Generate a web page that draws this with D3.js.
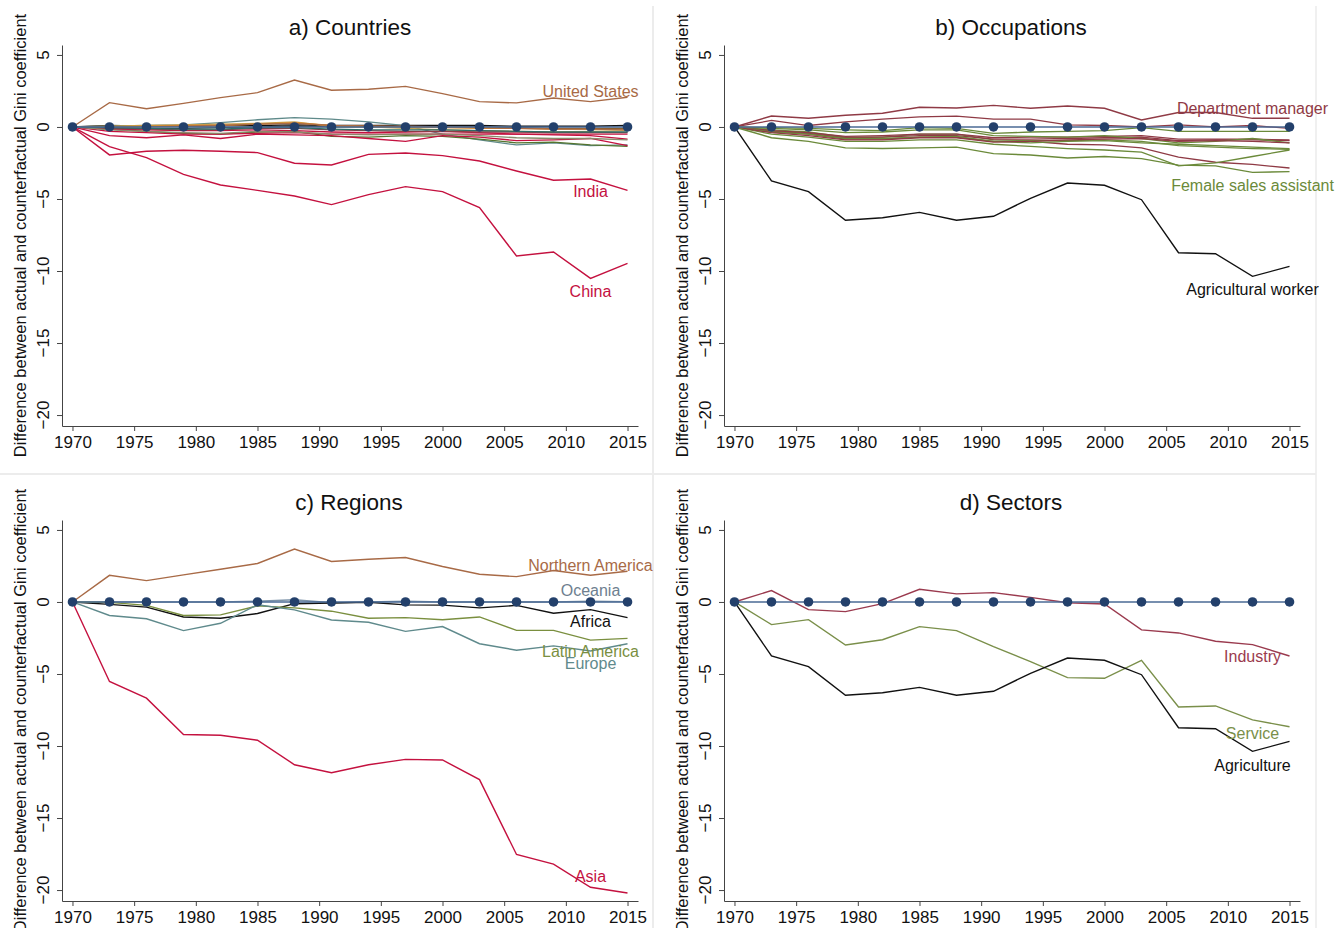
<!DOCTYPE html>
<html>
<head>
<meta charset="utf-8">
<script src="https://cdn.jsdelivr.net/npm/d3@7"></script>
<style>
  body { margin: 0; background: #fff; }
  svg { font-family: "Liberation Sans", Arial, Helvetica, sans-serif; }
</style>
</head>
<body>
<svg id="chart" width="1338" height="928"></svg>
<script>
// data
const years = [1970, 1973, 1976, 1979, 1982, 1985, 1988, 1991, 1994, 1997, 2000, 2003, 2006, 2009, 2012, 2015];
const xTicks = [1970, 1975, 1980, 1985, 1990, 1995, 2000, 2005, 2010, 2015];
const yTicks = [5, 0, -5, -10, -15, -20];
const zeroLine = years.map(() => 0);

// a) Countries
const unitedStates = [0, 1.69, 1.27, 1.64, 2.04, 2.38, 3.26, 2.55, 2.62, 2.82, 2.31, 1.76, 1.67, 2.01, 1.76, 2.06];
const india = [0, -1.94, -1.69, -1.62, -1.69, -1.78, -2.52, -2.64, -1.9, -1.81, -1.99, -2.36, -3.06, -3.7, -3.61, -4.4];
const china = [0, -1.37, -2.13, -3.29, -4.03, -4.4, -4.79, -5.39, -4.7, -4.14, -4.49, -5.6, -8.96, -8.68, -10.51, -9.47];
const countryOthers = [
  [0, 0.1, 0.05, 0.05, 0.1, 0.1, 0.15, 0.1, 0.1, 0.1, 0.1, 0.1, 0.05, 0.05, 0.05, 0.1],
  [0, -0.05, -0.1, -0.1, -0.05, 0, 0.05, 0, 0, 0.05, 0, 0, -0.05, -0.1, -0.1, -0.1],
  [0, 0.05, 0.1, 0.15, 0.3, 0.5, 0.65, 0.55, 0.35, 0.1, -0.5, -0.9, -1.25, -1.1, -1.3, -1.25],
  [0, -0.15, -0.3, -0.45, -0.5, -0.35, -0.3, -0.65, -0.7, -0.6, -0.65, -0.85, -1.1, -1.05, -1.25, -1.35],
  [0, 0.05, 0.1, 0.15, 0.2, 0.25, 0.35, 0.05, 0, -0.1, -0.2, -0.25, -0.3, -0.35, -0.3, -0.25],
  [0, -0.6, -0.75, -0.55, -0.8, -0.5, -0.55, -0.6, -0.8, -1.0, -0.6, -0.7, -0.95, -0.9, -0.8, -1.3],
  [0, -0.3, -0.4, -0.5, -0.5, -0.45, -0.4, -0.5, -0.5, -0.5, -0.5, -0.5, -0.5, -0.5, -0.5, -0.5],
  [0, -0.15, -0.2, -0.25, -0.25, -0.2, -0.25, -0.35, -0.4, -0.35, -0.3, -0.4, -0.5, -0.55, -0.6, -0.85],
  [0, -0.1, -0.15, -0.2, -0.2, -0.1, -0.1, -0.2, -0.25, -0.3, -0.3, -0.35, -0.35, -0.4, -0.4, -0.4],
  [0, 0, 0.05, 0.1, 0.1, 0.2, 0.3, 0.1, 0.05, 0, -0.05, -0.1, -0.1, -0.15, -0.15, -0.15],
  [0, -0.2, -0.3, -0.4, -0.45, -0.3, -0.35, -0.5, -0.55, -0.5, -0.5, -0.6, -0.75, -0.8, -0.8, -0.9],
  [0, 0, 0, 0.05, 0.1, 0.2, 0.25, 0.1, 0.05, 0.05, 0, -0.05, -0.1, -0.15, -0.15, -0.2],
  [0, -0.05, -0.1, -0.15, -0.15, -0.05, -0.05, -0.15, -0.2, -0.2, -0.2, -0.25, -0.3, -0.35, -0.35, -0.35]
];
const countryOtherColors = ['#111111', '#333333', '#5f8a8a', '#55752f', '#c8a04c', '#c4113f', '#c4113f', '#c4113f',
  '#8f3a45', '#d98a2b', '#8a8a6a', '#a86a46', '#2d6d66'];

// b) Occupations
const departmentManager = [0, 0.76, 0.6, 0.81, 0.95, 1.37, 1.32, 1.5, 1.3, 1.46, 1.3, 0.49, 1.0, 1.0, 0.6, 0.6];
const femaleSalesAssistant = [0, -0.75, -1.0, -1.45, -1.5, -1.45, -1.4, -1.85, -1.95, -2.15, -2.05, -2.2, -2.65, -2.7, -3.15, -3.1];
const agriculturalWorker = [0, -3.75, -4.49, -6.48, -6.3, -5.93, -6.48, -6.2, -4.95, -3.89, -4.05, -5.05, -8.73, -8.8, -10.37, -9.68];
const occupationOthers = [
  [0, 0.45, 0.1, 0.35, 0.55, 0.7, 0.75, 0.55, 0.55, 0.15, 0.1, 0, 0.15, 0, 0.1, -0.1],
  [0, -0.3, -0.5, -0.85, -0.85, -0.7, -0.7, -1.0, -1.0, -1.2, -1.25, -1.45, -2.1, -2.45, -2.6, -2.85],
  [0, -0.5, -0.7, -1.0, -1.0, -0.9, -0.9, -1.2, -1.35, -1.5, -1.6, -1.75, -2.7, -2.5, -2.05, -1.6],
  [0, -0.05, -0.1, -0.2, -0.25, -0.05, -0.1, -0.45, -0.35, -0.3, -0.25, -0.05, -0.3, -0.3, -0.3, -0.3],
  [0, -0.2, -0.35, -0.7, -0.7, -0.5, -0.5, -0.9, -0.95, -0.95, -0.9, -1.0, -1.3, -1.4, -1.5, -1.55],
  [0, -0.3, -0.45, -0.75, -0.7, -0.6, -0.6, -0.85, -0.85, -0.8, -0.75, -0.7, -0.95, -0.9, -0.9, -0.95],
  [0, -0.25, -0.4, -0.65, -0.6, -0.5, -0.5, -0.75, -0.7, -0.7, -0.65, -0.6, -0.85, -0.85, -0.85, -0.9],
  [0, -0.35, -0.5, -0.8, -0.8, -0.7, -0.65, -1.0, -1.1, -1.0, -0.95, -1.1, -1.2, -1.3, -1.4, -1.5],
  [0, -0.1, -0.2, -0.4, -0.35, -0.2, -0.2, -0.6, -0.65, -0.7, -0.6, -0.8, -1.1, -1.0, -0.8, -1.1],
  [0, -0.4, -0.6, -0.9, -0.9, -0.75, -0.75, -1.05, -1.0, -0.9, -0.85, -0.8, -1.0, -0.95, -1.0, -1.1]
];
const occupationOtherColors = ['#8f3a45', '#8f3a45', '#6b8a3a', '#6b8a3a', '#6b8a3a', '#8f3a45', '#8f3a45',
  '#6b8a3a', '#6b8a3a', '#8f3a45'];

// c) Regions
const northernAmerica = [0, 1.85, 1.48, 1.88, 2.27, 2.67, 3.67, 2.81, 2.97, 3.09, 2.46, 1.92, 1.76, 2.18, 1.85, 2.13];
const oceania = [0, 0, 0, 0, 0, 0.05, 0.15, -0.05, 0, 0.05, 0, 0, 0, 0, 0.05, 0.02];
const africa = [0, -0.17, -0.36, -1.04, -1.13, -0.8, -0.12, -0.07, -0.02, -0.2, -0.22, -0.41, -0.24, -0.78, -0.53, -1.09];
const latinAmerica = [0, -0.03, -0.24, -0.94, -0.9, -0.27, -0.41, -0.64, -1.13, -1.09, -1.23, -1.04, -1.97, -1.97, -2.65, -2.53];
const europe = [0, -0.94, -1.17, -1.99, -1.48, -0.2, -0.55, -1.25, -1.41, -2.04, -1.71, -2.9, -3.35, -3.05, -3.4, -2.9];
const asia = [0, -5.52, -6.68, -9.2, -9.25, -9.6, -11.3, -11.86, -11.3, -10.93, -10.97, -12.33, -17.53, -18.2, -19.81, -20.2];

// d) Sectors
const industry = [0, 0.79, -0.53, -0.67, -0.12, 0.88, 0.56, 0.65, 0.32, -0.05, -0.14, -1.94, -2.15, -2.73, -2.96, -3.75];
const service = [0, -1.57, -1.23, -2.99, -2.62, -1.71, -1.99, -3.1, -4.14, -5.25, -5.3, -4.05, -7.29, -7.22, -8.19, -8.66];
const agriculture = [0, -3.75, -4.49, -6.48, -6.3, -5.93, -6.48, -6.2, -4.95, -3.89, -4.05, -5.05, -8.73, -8.8, -10.37, -9.68];

// panels
const panels = [
  {
    title: 'a) Countries', left: 62, top: 45, titleX: 350,
    others: countryOthers.map((v, i) => ({ values: v, color: countryOtherColors[i] })),
    series: [
      { values: unitedStates, color: '#a86a46', label: 'United States', labelY: 2.5 },
      { values: india, color: '#c4113f', label: 'India', labelY: -4.45 },
      { values: china, color: '#c4113f', label: 'China', labelY: -11.4 }
    ]
  },
  {
    title: 'b) Occupations', left: 724, top: 45, titleX: 1011,
    others: occupationOthers.map((v, i) => ({ values: v, color: occupationOtherColors[i] })),
    series: [
      { values: departmentManager, color: '#8f3a45', label: 'Department manager', labelY: 1.32 },
      { values: femaleSalesAssistant, color: '#6b8a3a', label: 'Female sales assistant', labelY: -4.03 },
      { values: agriculturalWorker, color: '#111111', label: 'Agricultural worker', labelY: -11.25, labelColor: '#111' }
    ]
  },
  {
    title: 'c) Regions', left: 62, top: 520, titleX: 349,
    others: [],
    series: [
      { values: northernAmerica, color: '#a86a46', label: 'Northern America', labelY: 2.57 },
      { values: oceania, color: '#7b92a8', label: 'Oceania', labelY: 0.82, labelColor: '#6e7f90' },
      { values: africa, color: '#111111', label: 'Africa', labelY: -1.35 },
      { values: latinAmerica, color: '#7a8f3f', label: 'Latin America', labelY: -3.45 },
      { values: europe, color: '#5f8a8c', label: 'Europe', labelY: -4.29 },
      { values: asia, color: '#c4113f', label: 'Asia', labelY: -19.05 }
    ]
  },
  {
    title: 'd) Sectors', left: 724, top: 520, titleX: 1011,
    others: [],
    series: [
      { values: industry, color: '#9a3a4e', label: 'Industry', labelY: -3.8 },
      { values: service, color: '#7a8f4a', label: 'Service', labelY: -9.1 },
      { values: agriculture, color: '#111111', label: 'Agriculture', labelY: -11.35 }
    ]
  }
];

const svg = d3.select('#chart');

// faint panel borders
svg.append('line').attr('x1', 653).attr('x2', 653).attr('y1', 6).attr('y2', 928)
  .attr('stroke', '#ececec').attr('stroke-width', 2);
svg.append('line').attr('x1', 1316).attr('x2', 1316).attr('y1', 6).attr('y2', 928)
  .attr('stroke', '#f0f0f0').attr('stroke-width', 2);
svg.append('line').attr('x1', 0).attr('x2', 1316).attr('y1', 474).attr('y2', 474)
  .attr('stroke', '#ececec').attr('stroke-width', 2);

function drawPanel(p) {
  const g = svg.append('g');
  const plotH = 381;
  const x = d3.scaleLinear().domain([1969.15, 2015.85]).range([p.left, p.left + 576]);
  const y = d3.scaleLinear().domain([5.69, -20.76]).range([p.top, p.top + plotH]);

  // title
  g.append('text')
    .attr('x', p.titleX).attr('y', p.top - 10)
    .attr('text-anchor', 'middle')
    .attr('font-size', 22.5).attr('fill', '#111')
    .text(p.title);

  // y axis title
  g.append('text')
    .attr('transform', `translate(${p.left - 42},${p.top + plotH / 2}) rotate(-90)`)
    .attr('text-anchor', 'middle').attr('dy', '0.35em')
    .attr('font-size', 16.5).attr('fill', '#111')
    .text('Difference between actual and counterfactual Gini coefficient');

  // x axis
  const xAxis = g.append('g')
    .attr('transform', `translate(0,${p.top + plotH})`)
    .call(d3.axisBottom(x).tickValues(xTicks).tickFormat(d3.format('d'))
      .tickSize(5).tickSizeOuter(0).tickPadding(5));
  xAxis.selectAll('text').attr('font-size', 17).attr('fill', '#111')
    .attr('font-family', '"Liberation Sans", Arial, sans-serif');

  // y axis
  const yAxis = g.append('g')
    .attr('transform', `translate(${p.left},0)`)
    .call(d3.axisLeft(y).tickValues(yTicks).tickFormat('').tickSize(5).tickSizeOuter(0));
  g.selectAll('.ylab')
    .data(yTicks)
    .enter()
    .append('text')
    .attr('class', 'ylab')
    .attr('transform', (d) => `translate(${p.left - 19},${y(d)}) rotate(-90)`)
    .attr('text-anchor', 'middle').attr('dy', '0.35em')
    .attr('font-size', 17).attr('fill', '#111')
    .text((d) => d3.format('d')(d));

  [xAxis, yAxis].forEach((a) => {
    a.select('.domain').attr('stroke', '#444');
    a.selectAll('.tick line').attr('stroke', '#444');
  });

  const line = d3.line().x((d, i) => x(years[i])).y((d) => y(d));

  p.others.forEach((s) => {
    g.append('path').attr('d', line(s.values))
      .attr('fill', 'none').attr('stroke', s.color).attr('stroke-width', 1.3);
  });
  p.series.forEach((s) => {
    g.append('path').attr('d', line(s.values))
      .attr('fill', 'none').attr('stroke', s.color).attr('stroke-width', 1.4);
  });

  // zero reference with markers
  g.append('path').attr('d', line(zeroLine))
    .attr('fill', 'none').attr('stroke', '#4a6a94').attr('stroke-width', 1.6);
  g.selectAll('.dot')
    .data(zeroLine)
    .enter()
    .append('circle')
    .attr('class', 'dot')
    .attr('cx', (d, i) => x(years[i]))
    .attr('cy', (d) => y(d))
    .attr('r', 4.8)
    .attr('fill', '#23406b');

  // series labels
  p.series.forEach((s) => {
    g.append('text')
      .attr('x', x(2012)).attr('y', y(s.labelY))
      .attr('text-anchor', 'middle').attr('dy', '0.35em')
      .attr('font-size', 16)
      .attr('fill', s.labelColor || s.color)
      .text(s.label);
  });
}

panels.forEach(drawPanel);
</script>
</body>
</html>
